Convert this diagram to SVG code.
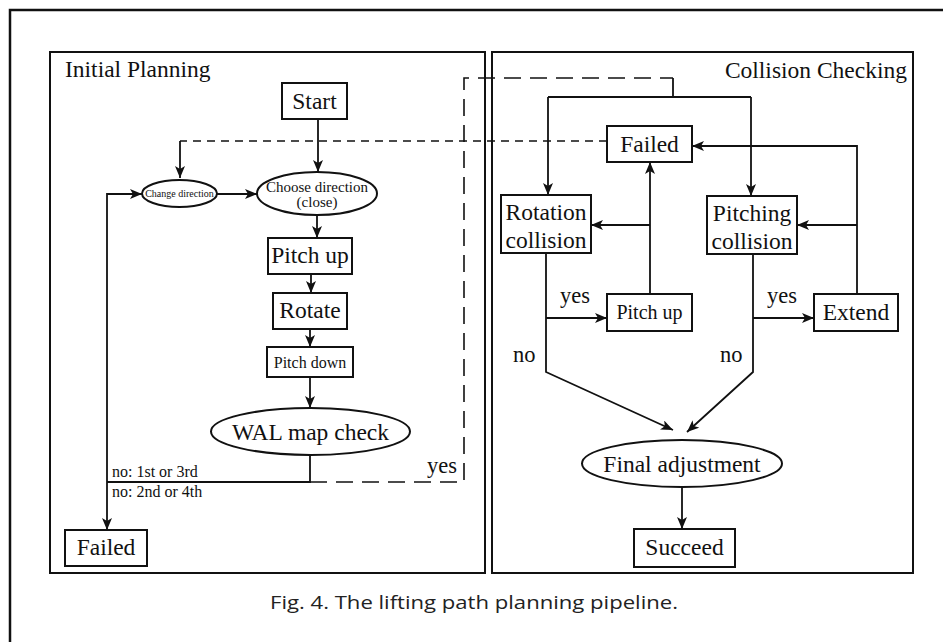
<svg xmlns="http://www.w3.org/2000/svg" width="943" height="642" viewBox="0 0 943 642">
  <defs>
    <marker id="arrow" viewBox="0 0 12 10" refX="12" refY="5" markerWidth="12" markerHeight="10" markerUnits="userSpaceOnUse" orient="auto">
      <path d="M0,0 L12,5 L0,10 L3,5 Z" fill="#111"/>
    </marker>
    <style>
      .frame { fill: none; stroke: #111; stroke-width: 2.5; }
      .panel { fill: none; stroke: #111; stroke-width: 2; }
      .box { fill: #fff; stroke: #111; stroke-width: 2; }
      .line { fill: none; stroke: #111; stroke-width: 1.8; }
      .arr { marker-end: url(#arrow); }
      .dash-s { fill: none; stroke: #111; stroke-width: 1.6; stroke-dasharray: 8 6; }
      .dash-l { fill: none; stroke: #111; stroke-width: 1.6; stroke-dasharray: 17 9; }
      text { font-family: "Liberation Serif", "Times New Roman", serif; fill: #111; }
      .t { font-size: 23.5px; text-anchor: middle; }
      .m { font-size: 16px; text-anchor: middle; }
      .lbl { font-size: 22.5px; }
      .sm { font-size: 16px; }
      .cap { font-family: "Open Sans", "Noto Sans", sans-serif; font-size: 18px; fill: #222; }
    </style>
  </defs>

  <!-- outer figure frame (right and bottom edges run off the page) -->
  <path class="frame" d="M10,650 V10 H950"/>

  <!-- panels -->
  <g id="panel-initial">
    <rect class="panel" x="50" y="52" width="435" height="521"/>
    <text class="lbl" x="65" y="77" style="font-size:23.5px">Initial Planning</text>
  </g>
  <g id="panel-collision">
    <rect class="panel" x="492" y="52" width="421" height="521"/>
    <text class="lbl" x="907" y="78" style="font-size:23.5px" text-anchor="end">Collision Checking</text>
  </g>

  <!-- connectors -->
  <g id="connectors">
    <!-- initial planning chain -->
    <path class="line arr" d="M318,119 V172"/>
    <path class="line arr" d="M317,215 V238"/>
    <path class="line arr" d="M311,274 V293"/>
    <path class="line arr" d="M310,329 V347"/>
    <path class="line arr" d="M310,377 V408"/>
    <path class="line" d="M310,455 V482 H107"/>
    <path class="line arr" d="M107,482 V194 H142"/>
    <path class="line arr" d="M107,482 V530"/>
    <path class="line arr" d="M217,194 H257"/>
    <!-- return from collision failure -->
    <path class="dash-s" d="M607,141 H180"/>
    <path class="line arr" d="M180,141 V178"/>
    <!-- yes: hand over to collision checking -->
    <path class="dash-l" d="M310,482 H464 V78 H673"/>
    <path class="line" d="M673,78 V97"/>
    <path class="line" d="M548,97 H751"/>
    <path class="line arr" d="M548,97 V195"/>
    <path class="line arr" d="M751,97 V196"/>
    <!-- rotation collision branch -->
    <path class="line arr" d="M546,253 V372 L673,430"/>
    <path class="line arr" d="M546,318 H607"/>
    <path class="line arr" d="M650,294 V162"/>
    <path class="line arr" d="M650,225 H591"/>
    <!-- pitching collision branch -->
    <path class="line arr" d="M753,254 V372 L687,432"/>
    <path class="line arr" d="M753,318 H814"/>
    <path class="line arr" d="M857,294 V146 H692"/>
    <path class="line arr" d="M857,225 H797"/>
    <!-- finish -->
    <path class="line arr" d="M682,487 V529"/>
    <!-- edge labels -->
    <text class="lbl" x="427" y="473">yes</text>
    <text class="sm" x="112" y="477">no: 1st or 3rd</text>
    <text class="sm" x="112" y="497">no: 2nd or 4th</text>
    <text class="lbl" x="560" y="303">yes</text>
    <text class="lbl" x="767" y="303">yes</text>
    <text class="lbl" x="513" y="362">no</text>
    <text class="lbl" x="720" y="362">no</text>
  </g>

  <!-- initial planning nodes -->
  <g id="start">
    <rect class="box" x="282" y="83" width="65" height="36"/>
    <text class="t" x="314.5" y="109">Start</text>
  </g>
  <g id="change-direction">
    <ellipse class="box" cx="179.5" cy="193.5" rx="37.5" ry="13.5"/>
    <text x="179.5" y="197" style="font-size:10px" text-anchor="middle">Change direction</text>
  </g>
  <g id="choose-direction">
    <ellipse class="box" cx="317" cy="193.5" rx="60" ry="21.5"/>
    <text class="m" x="317" y="192" style="font-size:15px">Choose direction</text>
    <text class="m" x="317" y="207" style="font-size:15px">(close)</text>
  </g>
  <g id="pitch-up">
    <rect class="box" x="268" y="238" width="84" height="36"/>
    <text class="t" x="310" y="263">Pitch up</text>
  </g>
  <g id="rotate">
    <rect class="box" x="273" y="293" width="74" height="36"/>
    <text class="t" x="310" y="318">Rotate</text>
  </g>
  <g id="pitch-down">
    <rect class="box" x="267" y="347" width="86" height="30"/>
    <text class="m" x="310" y="367.5">Pitch down</text>
  </g>
  <g id="wal-map-check">
    <ellipse class="box" cx="310.5" cy="431.5" rx="99.5" ry="23.5"/>
    <text class="t" x="310.5" y="439.5">WAL map check</text>
  </g>
  <g id="failed-initial">
    <rect class="box" x="65" y="530" width="82" height="36"/>
    <text class="t" x="106" y="555">Failed</text>
  </g>

  <!-- collision checking nodes -->
  <g id="failed-collision">
    <rect class="box" x="607" y="126" width="85" height="36"/>
    <text class="t" x="649.5" y="152">Failed</text>
  </g>
  <g id="rotation-collision">
    <rect class="box" x="501" y="195" width="90" height="58"/>
    <text class="t" x="546" y="220">Rotation</text>
    <text class="t" x="546" y="248">collision</text>
  </g>
  <g id="pitching-collision">
    <rect class="box" x="707" y="196" width="90" height="58"/>
    <text class="t" x="752" y="221">Pitching</text>
    <text class="t" x="752" y="249">collision</text>
  </g>
  <g id="pitch-up-collision">
    <rect class="box" x="607" y="294" width="85" height="37"/>
    <text x="649.5" y="319" style="font-size:20px" text-anchor="middle">Pitch up</text>
  </g>
  <g id="extend">
    <rect class="box" x="814" y="294" width="84" height="37"/>
    <text class="t" x="856" y="320">Extend</text>
  </g>
  <g id="final-adjustment">
    <ellipse class="box" cx="682" cy="463.5" rx="100" ry="23.5"/>
    <text class="t" x="682" y="471.5">Final adjustment</text>
  </g>
  <g id="succeed">
    <rect class="box" x="634" y="529" width="101" height="38"/>
    <text class="t" x="684.5" y="555">Succeed</text>
  </g>

  <!-- caption -->
  <text class="cap" x="270" y="609" textLength="408" lengthAdjust="spacingAndGlyphs">Fig. 4. The lifting path planning pipeline.</text>
</svg>
